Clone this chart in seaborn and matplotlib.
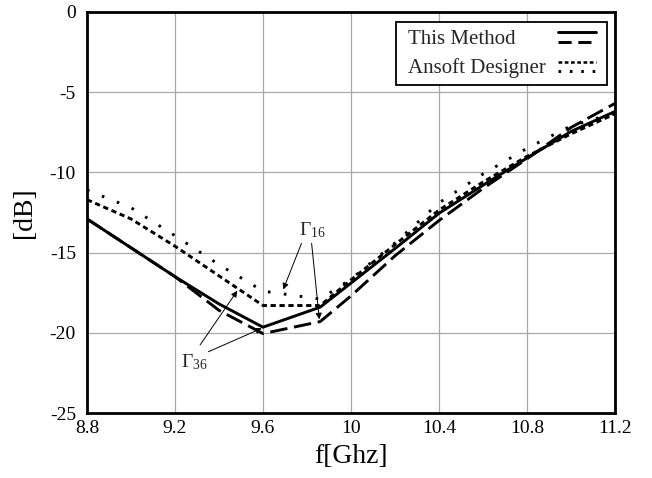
import matplotlib
matplotlib.use("Agg")
import matplotlib.pyplot as plt
from matplotlib.lines import Line2D
from matplotlib.legend_handler import HandlerBase
from matplotlib.offsetbox import HPacker, DrawingArea
import numpy as np
import pandas as pd
import seaborn as sns

# ---- data ----
freq = [8.8, 9.0, 9.2, 9.4, 9.6, 9.86, 10.0, 10.2, 10.4, 10.6, 10.8, 11.0, 11.2]
tm_g36 = [-12.9, -14.7, -16.5, -18.2, -19.65, -18.4, -16.9, -14.75, -12.55, -10.8, -9.1, -7.45, -6.2]
tm_g16 = [-12.9, -14.7, -16.5, -18.6, -20.05, -19.3, -17.7, -15.2, -13.0, -11.0, -9.15, -7.2, -5.7]
an_g36 = [-11.7, -12.9, -14.6, -16.45, -18.3, -18.3, -16.7, -14.5, -12.35, -10.6, -9.0, -7.6, -6.35]
an_g16 = [-11.1, -12.2, -13.95, -15.75, -17.4, -17.9, -16.65, -14.4, -11.9, -10.1, -8.5, -7.1, -6.3]

series_names = ["TM36", "TM16", "AN36", "AN16"]
legend_labels = ["This Method", "Ansoft Designer"]
xtick_vals = [8.8, 9.2, 9.6, 10.0, 10.4, 10.8, 11.2]
xtick_labels = ["8.8", "9.2", "9.6", "10", "10.4", "10.8", "11.2"]
ytick_vals = [0, -5, -10, -15, -20, -25]
ytick_labels = ["0", "-5", "-10", "-15", "-20", "-25"]

df = pd.concat([
    pd.DataFrame({"f": freq, "dB": v, "series": n})
    for n, v in zip(series_names, [tm_g36, tm_g16, an_g36, an_g16])
], ignore_index=True)

# ---- style ----
sns.set_theme(style="white")
plt.rcParams["font.family"] = ["Liberation Serif", "DejaVu Serif"]
plt.rcParams["axes.unicode_minus"] = False
plt.rcParams["mathtext.fontset"] = "custom"
plt.rcParams["mathtext.rm"] = "Liberation Serif"
plt.rcParams["mathtext.it"] = "Liberation Serif:italic"

fig = plt.figure(figsize=(6.52, 4.78), dpi=100)
ax = fig.add_axes([87 / 652, 1 - 413 / 478, (615 - 87) / 652, (413 - 12) / 478])

dash_map = {"TM36": "", "TM16": (6, 2.3), "AN36": (1.8, 1.25), "AN16": (0.9, 4.6)}
sns.lineplot(data=df, x="f", y="dB", style="series", dashes=dash_map,
             color="black", linewidth=2.1, legend=False, ax=ax, sort=False)
for ln in ax.get_lines():
    ln.set_solid_capstyle("butt")
    ln.set_dash_capstyle("butt")

ax.set_xlim(8.8, 11.2)
ax.set_ylim(-25, 0)
ax.set_xticks(xtick_vals)
ax.set_xticklabels(xtick_labels)
ax.set_yticks(ytick_vals)
ax.set_yticklabels(ytick_labels)
ax.grid(True, color="#a8a8a8", linewidth=0.9)
ax.tick_params(axis="both", length=0, labelsize=14, colors="black")
ax.tick_params(axis="x", pad=5)
ax.tick_params(axis="y", pad=8)
for sp in ax.spines.values():
    sp.set_color("black")
    sp.set_linewidth(2.0)
ax.set_xlabel("f[Ghz]", fontsize=20, color="black", labelpad=5)
ax.set_ylabel("[dB]", fontsize=20, color="black", labelpad=9)


# ---- legend with two stacked lines per entry ----
class TwoLineHandler(HandlerBase):
    def create_artists(self, legend, orig_handle, xdescent, ydescent,
                       width, height, fontsize, trans):
        arts = []
        for h, frac in zip(orig_handle, (0.8, 0.15)):
            y = frac * height - ydescent
            line = Line2D([-xdescent, width - xdescent], [y, y])
            line.update_from(h)
            line.set_transform(trans)
            arts.append(line)
        return arts


def mk(dashes, lw=2.1):
    l = Line2D([], [], color="black", linewidth=lw)
    if dashes:
        l.set_dashes(dashes)
    return l


h_tm = (mk(""), mk((4.5, 2.3)))
h_an = (mk((1.5, 1.0), 1.8), mk((0.9, 3.0)))
leg = ax.legend([h_tm, h_an], legend_labels, handler_map={tuple: TwoLineHandler()},
                loc="upper right", bbox_to_anchor=(0.985, 0.975), borderaxespad=0,
                markerfirst=False, fontsize=15, handlelength=1.8, handletextpad=0.6,
                labelspacing=0.45, borderpad=0.35, fancybox=False, framealpha=1,
                edgecolor="black")
leg.get_frame().set_linewidth(1.3)

# left-align legend labels while keeping the samples on the right
fig.canvas.draw()
renderer = fig.canvas.get_renderer()
for col in leg._legend_handle_box.get_children():
    rows = list(col.get_children())
    W = max(r.get_bbox(renderer).width for r in rows)
    new_rows = []
    for r in rows:
        r.mode = "expand"
        r.width = W
        nr = HPacker(pad=0, sep=0, align="baseline",
                     children=[DrawingArea(3.5, 1), r, DrawingArea(3, 1)])
        nr.set_figure(fig)
        new_rows.append(nr)
    col._children = new_rows

# ---- annotations ----
arrow = dict(arrowstyle="-|>", color="black", lw=0.7, mutation_scale=9,
             shrinkA=0, shrinkB=0)
ax.text(9.825, -13.6, r"$\Gamma_{16}$", fontsize=14, ha="center", va="center")
ax.annotate("", xy=(9.692, -17.3), xytext=(9.775, -14.42), arrowprops=arrow)
ax.annotate("", xy=(9.856, -19.16), xytext=(9.821, -14.42), arrowprops=arrow)
ax.text(9.29, -21.8, r"$\Gamma_{36}$", fontsize=14, ha="center", va="center")
ax.annotate("", xy=(9.483, -17.38), xytext=(9.314, -20.76), arrowprops=arrow)
ax.annotate("", xy=(9.594, -19.72), xytext=(9.352, -21.18), arrowprops=arrow)

fig.savefig("out.png", dpi=100, facecolor="white")
